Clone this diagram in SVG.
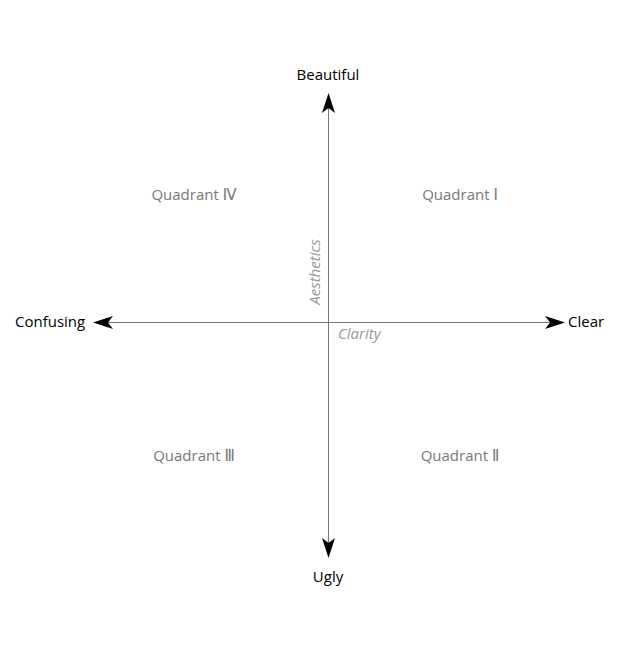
<svg xmlns="http://www.w3.org/2000/svg" width="617" height="666" viewBox="0 0 617 666">
<style>
text{font-family:"Open Sans","Noto Sans","DejaVu Sans",sans-serif;font-size:15px}
.pole{fill:#000}
.quad{fill:#777}
.axlab{fill:#999;font-style:italic}
.axis{stroke:#777;stroke-width:1;fill:none}
.head{fill:#000}
</style>
<rect width="617" height="666" fill="#fff"/>
<g id="connectors">
<line class="axis" x1="328.5" y1="108" x2="328.5" y2="543"/>
<line class="axis" x1="108" y1="322.5" x2="550" y2="322.5"/>
<path class="head" d="M328.5,93 L335,113 L328.5,108 L322,113 Z"/>
<path class="head" d="M328.5,558 L335,538 L328.5,543 L322,538 Z"/>
<path class="head" d="M93,322.5 L113,316 L108,322.5 L113,329 Z"/>
<path class="head" d="M565,322.5 L545,316 L550,322.5 L545,329 Z"/>
</g>
<g id="beautiful"><text class="pole" x="328" y="80" text-anchor="middle">Beautiful</text></g>
<g id="ugly"><text class="pole" x="328" y="582" text-anchor="middle">Ugly</text></g>
<g id="confusing"><text class="pole" x="15" y="327">Confusing</text></g>
<g id="clear"><text class="pole" x="568" y="327">Clear</text></g>
<g id="q4"><text class="quad" x="194" y="200" text-anchor="middle">Quadrant Ⅳ</text></g>
<g id="q1"><text class="quad" x="460" y="200" text-anchor="middle">Quadrant Ⅰ</text></g>
<g id="q3"><text class="quad" x="194" y="461" text-anchor="middle">Quadrant Ⅲ</text></g>
<g id="q2"><text class="quad" x="460" y="461" text-anchor="middle">Quadrant Ⅱ</text></g>
<g id="aesthetics"><text class="axlab" transform="translate(320,272) rotate(-90)" text-anchor="middle">Aesthetics</text></g>
<g id="clarity"><text class="axlab" x="338" y="339">Clarity</text></g>
</svg>
